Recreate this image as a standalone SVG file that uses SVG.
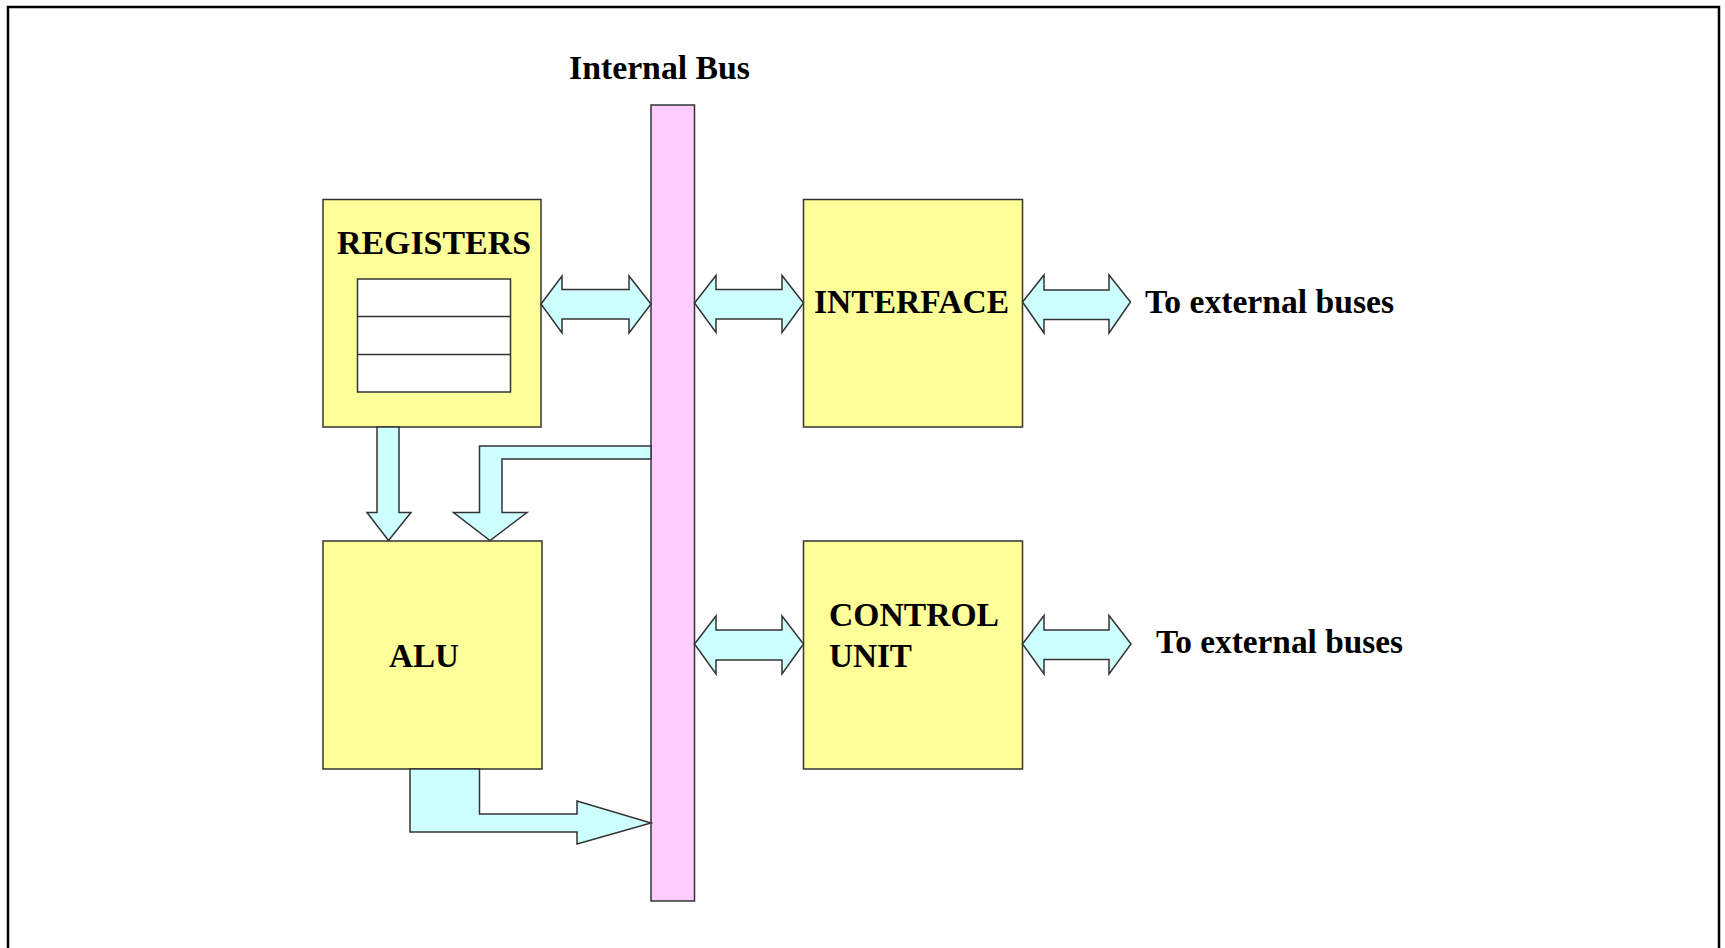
<svg xmlns="http://www.w3.org/2000/svg" width="1725" height="948" viewBox="0 0 1725 948">
<style>
.box{fill:#FFFF99;stroke:#333;stroke-width:1.5}
.bus{fill:#FFCCFF;stroke:#333;stroke-width:1.5}
.reg{fill:#FFFFFF;stroke:#333;stroke-width:1.5}
.arr{fill:#CCFFFF;stroke:#333;stroke-width:1.5;stroke-linejoin:miter}
.t{font-family:"Liberation Serif","Times New Roman",serif;font-weight:bold;font-size:34px;fill:#000}
</style>
<rect x="0" y="0" width="1725" height="948" fill="#FFFFFF"/>
<rect x="8" y="7" width="1711" height="960" fill="none" stroke="#000" stroke-width="2.5"/>
<g id="internal-bus">
<rect class="bus" x="651" y="105" width="43.5" height="796"/>
<text class="t" x="569" y="79" textLength="181" lengthAdjust="spacingAndGlyphs">Internal Bus</text>
</g>
<g id="registers">
<rect class="box" x="323" y="199.5" width="218" height="227.5"/>
<rect class="reg" x="357.5" y="279" width="153" height="113"/>
<line x1="357.5" y1="316.5" x2="510.5" y2="316.5" stroke="#333" stroke-width="1.5"/>
<line x1="357.5" y1="354.5" x2="510.5" y2="354.5" stroke="#333" stroke-width="1.5"/>
<text class="t" x="337" y="254" textLength="194" lengthAdjust="spacingAndGlyphs">REGISTERS</text>
</g>
<g id="alu">
<rect class="box" x="323" y="541" width="219" height="228"/>
<text class="t" x="389" y="667" textLength="70" lengthAdjust="spacingAndGlyphs">ALU</text>
</g>
<g id="interface">
<rect class="box" x="803.5" y="199.5" width="219" height="227.5"/>
<text class="t" x="814" y="313" textLength="195" lengthAdjust="spacingAndGlyphs">INTERFACE</text>
</g>
<g id="control-unit">
<rect class="box" x="803.5" y="541" width="219" height="228"/>
<text class="t" x="829" y="626" textLength="170" lengthAdjust="spacingAndGlyphs">CONTROL</text>
<text class="t" x="829" y="667" textLength="83" lengthAdjust="spacingAndGlyphs">UNIT</text>
</g>
<g id="external-label-1">
<text class="t" x="1145" y="313" textLength="249" lengthAdjust="spacingAndGlyphs">To external buses</text>
</g>
<g id="external-label-2">
<text class="t" x="1156" y="653" textLength="247" lengthAdjust="spacingAndGlyphs">To external buses</text>
</g>
<g id="connectors">
<polygon class="arr" points="541,304 562,276 562,289.5 629,289.5 629,276 651,304 629,333 629,319 562,319 562,333"/>
<polygon class="arr" points="694.5,303 716,275.5 716,289.5 782,289.5 782,275.5 803.5,303 782,332.5 782,319 716,319 716,332.5"/>
<polygon class="arr" points="1022.5,302 1044,275 1044,290 1109,290 1109,275 1130.5,302 1109,333 1109,319.5 1044,319.5 1044,333"/>
<polygon class="arr" points="694.5,644 716,616 716,630 782,630 782,616 803.5,644 782,674 782,660 716,660 716,674"/>
<polygon class="arr" points="1022.5,644 1044,615.5 1044,630 1109,630 1109,615.5 1131,644 1109,674 1109,659.5 1044,659.5 1044,674"/>
<polygon class="arr" points="377,427 399,427 399,512.5 411,512.5 388.5,540.5 367,512.5 377,512.5"/>
<polygon class="arr" points="651,446 479.5,446 479.5,512.5 453.5,512.5 490,540.5 527,512.5 502,512.5 502,459 651,459"/>
<polygon class="arr" points="410,769 479.5,769 479.5,814 577,814 577,801 651,823 577,844 577,832 410,832"/>
</g>
</svg>
